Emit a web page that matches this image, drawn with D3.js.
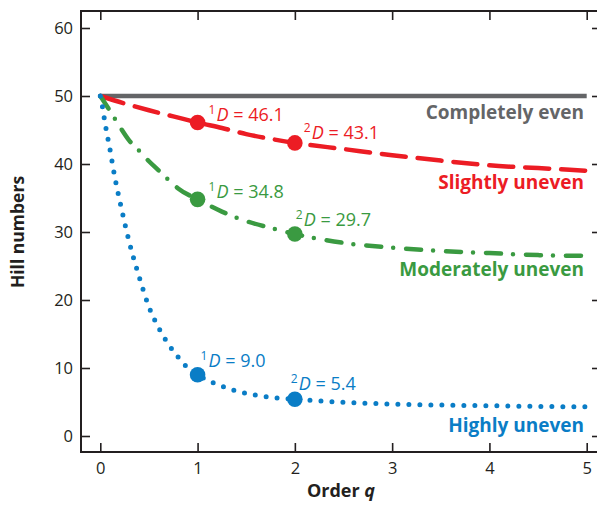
<!DOCTYPE html>
<html>
<head>
<meta charset="utf-8">
<script src="https://cdn.jsdelivr.net/npm/d3@7"></script>
<style>
  html, body { margin: 0; padding: 0; background: #fff; }
  svg { display: block; font-family: "Open Sans", "Noto Sans", sans-serif; }
</style>
</head>
<body>
<svg id="chart" width="597" height="505"></svg>
<script>
// ---------------- data ----------------
const seriesNames = ["Completely even", "Slightly uneven", "Moderately uneven", "Highly uneven"];

const evenQ = [0, 5];
const evenV = [50, 50];

const slightQ = [0, 0.25, 0.5, 0.75, 1, 1.25, 1.5, 1.75, 2, 2.5, 3, 3.5, 4, 4.5, 5];
const slightV = [50, 48.9, 47.9, 47.0, 46.1, 45.3, 44.4, 43.7, 43.1, 42.2, 41.3, 40.5, 39.8, 39.4, 39.0];

const moderateQ = [0, 0.1, 0.2, 0.3, 0.4, 0.5, 0.6, 0.7, 0.8, 1, 1.25, 1.5, 1.75, 2, 2.5, 3, 3.5, 4, 4.5, 5];
const moderateV = [50, 47.8, 45.5, 43.4, 41.95, 40.4, 39.05, 37.7, 36.4, 34.8, 33.0, 31.6, 30.6, 29.7, 28.4, 27.7, 27.2, 26.9, 26.6, 26.5];

const highlyQ = [0, 0.02, 0.04, 0.06, 0.1, 0.15, 0.2, 0.3, 0.4, 0.5, 0.6, 0.7, 0.8, 0.9, 1, 1.2, 1.4, 1.6, 1.8, 2, 2.5, 3, 3.5, 4, 4.5, 5];
const highlyV = [50, 48.6, 46.8, 45.1, 42.1, 38.0, 34.6, 28.4, 23.4, 19.0, 15.9, 13.5, 11.6, 10.0, 9.0, 7.6, 6.6, 6.0, 5.6, 5.4, 4.95, 4.7, 4.55, 4.45, 4.35, 4.3];

// highlighted Hill numbers at q = 1 and q = 2
const markerQ = [1, 2];
const slightD = [46.1, 43.1];
const moderateD = [34.8, 29.7];
const highlyD = [9.0, 5.4];

const xTicks = [0, 1, 2, 3, 4, 5];
const yTicks = [0, 10, 20, 30, 40, 50, 60];

// ---------------- layout & style ----------------
const frame = { left: 81, right: 601, top: 11, bottom: 452 };
const colors = { even: "#646567", slight: "#ec1c24", moderate: "#3a9a41", highly: "#0a7dc6" };
const ink = "#231f20";

const svg = d3.select("#chart");
const x = d3.scaleLinear().domain([0, 5]).range([100.3, 586.7]);
const y = d3.scaleLinear().domain([0, 60]).range([436, 28]);

// frame
svg.append("rect")
  .attr("x", frame.left).attr("y", frame.top)
  .attr("width", frame.right - frame.left).attr("height", frame.bottom - frame.top)
  .attr("fill", "none").attr("stroke", ink).attr("stroke-width", 2);

function styleAxis(g) {
  g.select(".domain").remove();
  g.selectAll(".tick line").attr("stroke", ink).attr("stroke-width", 1.6);
  g.selectAll(".tick text").attr("fill", ink).style("font-size", "16.5px")
    .style("font-family", "'Open Sans', sans-serif");
}

svg.append("g").attr("transform", `translate(${frame.left},0)`)
  .call(d3.axisLeft(y).tickValues(yTicks).tickSize(-9).tickPadding(8).tickFormat(d3.format("d")))
  .call(styleAxis);
svg.append("g").attr("transform", `translate(${frame.right},0)`)
  .call(d3.axisRight(y).tickValues(yTicks).tickSize(-9).tickFormat(""))
  .call(styleAxis);
svg.append("g").attr("transform", `translate(0,${frame.bottom})`)
  .call(d3.axisBottom(x).tickValues(xTicks).tickSize(-9).tickPadding(10).tickFormat(d3.format("d")))
  .call(styleAxis);
svg.append("g").attr("transform", `translate(0,${frame.top})`)
  .call(d3.axisTop(x).tickValues(xTicks).tickSize(-9).tickFormat(""))
  .call(styleAxis);

// axis titles
svg.append("text")
  .attr("transform", "translate(24,232) rotate(-90)")
  .attr("text-anchor", "middle")
  .attr("fill", ink).style("font-weight", 700).style("font-size", "17.5px")
  .text("Hill numbers");

const xt = svg.append("text")
  .attr("x", 341).attr("y", 497).attr("text-anchor", "middle")
  .attr("fill", ink).style("font-weight", 700).style("font-size", "18px");
xt.append("tspan").text("Order ");
xt.append("tspan").style("font-style", "italic").text("q");

// curves
const line = d3.line().x(d => x(d[0])).y(d => y(d[1])).curve(d3.curveMonotoneX);
const zip = (a, b) => a.map((v, i) => [v, b[i]]);

const curves = [
  { q: evenQ, v: evenV, color: colors.even, width: 4.5, dash: null, cap: "butt" },
  { q: slightQ, v: slightV, color: colors.slight, width: 4.5, dash: "24 12", cap: "round" },
  { q: moderateQ, v: moderateV, color: colors.moderate, width: 4.5, dash: "15 12 0 13", cap: "round" },
  { q: highlyQ, v: highlyV, color: colors.highly, width: 5, dash: "0 11", cap: "round" }
];

curves.forEach(c => {
  svg.append("path")
    .attr("d", line(zip(c.q, c.v)))
    .attr("fill", "none")
    .attr("stroke", c.color)
    .attr("stroke-width", c.width)
    .attr("stroke-linecap", c.cap)
    .attr("stroke-dasharray", c.dash);
});

// markers and annotations
const marks = [
  { D: slightD, color: colors.slight, offs: [[11, -1.5], [9, -4]] },
  { D: moderateD, color: colors.moderate, offs: [[11, -1], [1, -8]] },
  { D: highlyD, color: colors.highly, offs: [[3, -7.5], [-4, -9.5]] }
];

marks.forEach(m => {
  markerQ.forEach((q, i) => {
    const cx = x(q), cy = y(m.D[i]);
    svg.append("circle").attr("cx", cx).attr("cy", cy).attr("r", 7.8).attr("fill", m.color);
    const t = svg.append("text")
      .attr("x", cx + m.offs[i][0]).attr("y", cy + m.offs[i][1])
      .attr("fill", m.color).style("font-size", "18px");
    t.append("tspan").attr("dy", -7).style("font-size", "12px").text(q);
    t.append("tspan").attr("dy", 7).attr("dx", 1).style("font-style", "italic").text("D");
    t.append("tspan").text(" = " + m.D[i].toFixed(1));
  });
});

// series labels
const labelY = [119, 189, 276, 432];
const labelColors = [colors.even, colors.slight, colors.moderate, colors.highly];
seriesNames.forEach((name, i) => {
  svg.append("text")
    .attr("x", 584).attr("y", labelY[i])
    .attr("text-anchor", "end")
    .attr("fill", labelColors[i])
    .style("font-weight", 700).style("font-size", "19px")
    .text(name);
});
</script>
</body>
</html>
